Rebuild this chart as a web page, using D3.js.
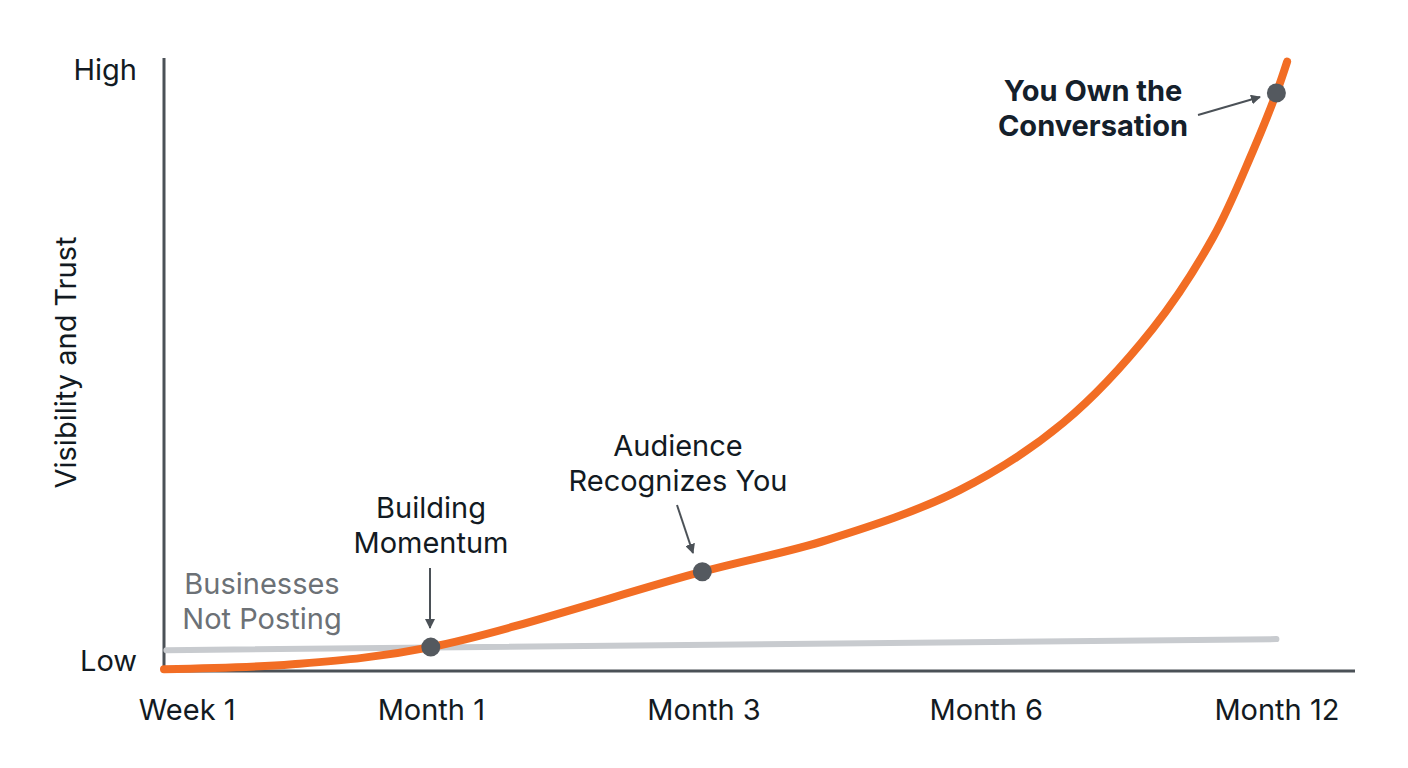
<!DOCTYPE html>
<html>
<head>
<meta charset="utf-8">
<script src="https://cdn.jsdelivr.net/npm/d3@7"></script>
<style>
  html, body { margin: 0; padding: 0; background: #ffffff; }
  svg { display: block; font-family: Inter, "Noto Sans", sans-serif; }
</style>
</head>
<body>
<svg id="chart" width="1408" height="768"></svg>
<script>
// ---------- data ----------
const xTickLabels = ["Week 1", "Month 1", "Month 3", "Month 6", "Month 12"];
const xTickValues = [1.9, 22.4, 45.3, 69.0, 93.4];
const yTickLabels = ["Low", "High"];
const yTickValues = [1.8, 98.2];

// growth curve (x = timeline position, y = visibility/trust)
const growthX = [0, 10.8, 22.4, 45.2, 55.7, 66.8, 75.5, 83.0, 88.1, 91.4, 93.4, 94.3];
const growthY = [0.3, 1.1, 3.9, 16.2, 21.4, 29.5, 40.5, 55.8, 70.8, 84.7, 94.3, 99.4];

// businesses not posting (flat baseline)
const flatX = [0.2, 93.4];
const flatY = [3.4, 5.2];

// milestones
const milestoneX = [22.4, 45.2, 93.4];
const milestoneY = [3.9, 16.2, 94.3];
const milestoneLabels = [["Building", "Momentum"], ["Audience", "Recognizes You"], ["You Own the", "Conversation"]];

// ---------- layout ----------
const svg = d3.select("#chart");
const mLeft = 164, mRight = 1355, mTop = 58, mBottom = 671;
const fs = 29;

const x = d3.scaleLinear().domain([0, 100]).range([mLeft, mRight]);
const y = d3.scaleLinear().domain([0, 100]).range([mBottom, mTop]);

const axisColor = "#4b5157";
const textColor = "#121a22";

// axes lines
svg.append("line").attr("x1", mLeft).attr("x2", mLeft).attr("y1", mTop).attr("y2", mBottom + 1.5)
  .attr("stroke", axisColor).attr("stroke-width", 3);
svg.append("line").attr("x1", mLeft).attr("x2", mRight).attr("y1", mBottom).attr("y2", mBottom)
  .attr("stroke", axisColor).attr("stroke-width", 3);

// x tick labels
const xAxis = d3.axisBottom(x).tickValues(xTickValues)
  .tickFormat((d, i) => xTickLabels[i]).tickSize(0).tickPadding(0);
const gx = svg.append("g").attr("transform", `translate(0, ${mBottom + 49})`).call(xAxis);
gx.select(".domain").remove();
gx.selectAll("text").attr("font-size", fs).attr("fill", textColor)
  .attr("font-family", "Inter, sans-serif").attr("dy", 0);

// y tick labels
const yAxis = d3.axisLeft(y).tickValues(yTickValues)
  .tickFormat((d, i) => yTickLabels[i]).tickSize(0).tickPadding(0);
const gy = svg.append("g").attr("transform", `translate(${mLeft - 27}, 0)`).call(yAxis);
gy.select(".domain").remove();
gy.selectAll("text").attr("font-size", fs).attr("fill", textColor)
  .attr("font-family", "Inter, sans-serif").attr("dy", "0.36em");

// y axis title
svg.append("text")
  .attr("transform", `translate(76, ${(mTop + mBottom) / 2 - 2}) rotate(-90)`)
  .attr("text-anchor", "middle")
  .attr("font-size", fs).attr("fill", textColor)
  .text("Visibility and Trust");

// flat gray line
const flatData = flatX.map((d, i) => [d, flatY[i]]);
svg.append("path")
  .attr("d", d3.line().x(d => x(d[0])).y(d => y(d[1]))(flatData))
  .attr("fill", "none").attr("stroke", "#c8cbcf").attr("stroke-width", 6)
  .attr("stroke-linecap", "round");

// growth curve
const growthData = growthX.map((d, i) => [d, growthY[i]]);
svg.append("path")
  .attr("d", d3.line().curve(d3.curveCatmullRom.alpha(0.5)).x(d => x(d[0])).y(d => y(d[1]))(growthData))
  .attr("fill", "none").attr("stroke", "#f26d24").attr("stroke-width", 8)
  .attr("stroke-linecap", "round");

// arrow marker
const defs = svg.append("defs");
defs.append("marker").attr("id", "arr").attr("viewBox", "0 0 10 10")
  .attr("refX", 9).attr("refY", 5).attr("markerWidth", 10).attr("markerHeight", 10)
  .attr("markerUnits", "userSpaceOnUse").attr("orient", "auto")
  .append("path").attr("d", "M0,0 L10,5 L0,10 z").attr("fill", "#4b5157");

// milestone dots
svg.selectAll("circle.m").data(milestoneX).enter().append("circle")
  .attr("cx", d => x(d)).attr("cy", (d, i) => y(milestoneY[i]))
  .attr("r", 9.5).attr("fill", "#54595f");

// annotations
const ann = [
  {cx: 431, lines: milestoneLabels[0], base: 518, weight: 400, anchor: "middle", arrow: [430, 568, 430, 628]},
  {cx: 678, lines: milestoneLabels[1], base: 456, weight: 400, anchor: "middle", arrow: [677, 505, 693, 553]},
  {cx: 1093, lines: milestoneLabels[2], base: 101, weight: 700, anchor: "middle", arrow: [1198, 115, 1260, 97]}
];
ann.forEach(a => {
  const t = svg.append("text").attr("text-anchor", a.anchor)
    .attr("font-size", fs).attr("font-weight", a.weight).attr("fill", a.weight === 700 ? "#14202b" : textColor);
  a.lines.forEach((l, i) => t.append("tspan").attr("x", a.cx).attr("y", a.base + i * 35).text(l));
  svg.append("line").attr("x1", a.arrow[0]).attr("y1", a.arrow[1]).attr("x2", a.arrow[2]).attr("y2", a.arrow[3])
    .attr("stroke", "#4b5157").attr("stroke-width", 2).attr("marker-end", "url(#arr)");
});

// businesses not posting label
const bt = svg.append("text").attr("text-anchor", "middle").attr("font-size", fs).attr("fill", "#6c7176");
["Businesses", "Not Posting"].forEach((l, i) => bt.append("tspan").attr("x", 262).attr("y", 594 + i * 35).text(l));
</script>
</body>
</html>
